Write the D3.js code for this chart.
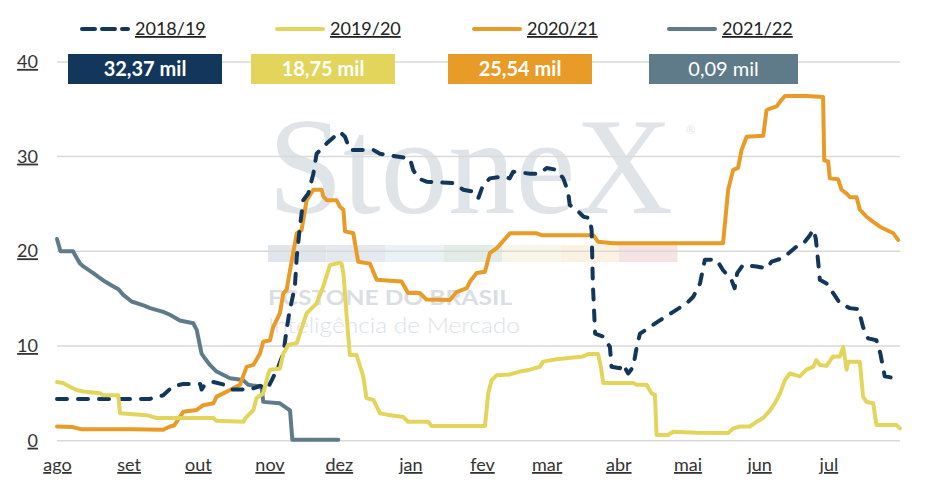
<!DOCTYPE html>
<html><head><meta charset="utf-8">
<script src="https://cdn.jsdelivr.net/npm/d3@7"></script>
<style>
html,body{margin:0;padding:0;background:#fff;}
text{font-family:Lato,"Open Sans",sans-serif;}
.ul{text-decoration:underline;}
</style></head>
<body><svg id="c" width="927" height="483"></svg>
<script>
// ---- data (x = days since 1 Aug of the season, y = thousand) ----
const seasons = ["2018/19","2019/20","2020/21","2021/22"];
const colors = ["#13375b","#e3d55c","#e89b26","#5f7b8a"];
const totals = ["32,37 mil","18,75 mil","25,54 mil","0,09 mil"];
const monthLabels = ["ago","set","out","nov","dez","jan","fev","mar","abr","mai","jun","jul"];
const yTicks = [0,10,20,30,40];

const s1819 = [[0,4.4],[40,4.4],[46,4.8],[50,5.7],[54.7,6.0],[62,6.0],[62.6,5.4],[64,5.9],[67.7,6.2],[72.6,5.9],[75.6,5.4],[83.5,5.4],[88,5.8],[90.8,5.35],[93,6.4],[95.8,7.8],[98,9.2],[99.4,11.7],[100.5,13.4],[103,16.3],[103.8,19.4],[105,22.2],[106.6,25.4],[108.8,26.1],[111,28.2],[112.4,30.3],[116.8,31.4],[121,32.3],[122.5,32.6],[124.7,32.1],[126.8,30.7],[137,30.7],[139.8,30.3],[152.8,29.8],[154.2,28.6],[156.4,27.7],[160,27.35],[171.6,27.2],[175.9,26.5],[180.2,26.3],[182.4,25.6],[184.5,27.0],[187.4,27.7],[193.2,27.9],[196,27.7],[197.5,28.4],[204.8,28.2],[209,28.2],[212,28.8],[216.3,28.6],[219.2,27.7],[221.3,26.3],[222,24.9],[225.7,24.2],[228,23.65],[230.7,23.5],[231.5,22.2],[232,16.6],[233,11.3],[236.5,11.0],[239.4,9.9],[240.1,7.8],[243.7,7.65],[245,8.1],[247.3,7.1],[249.5,7.8],[251,9.9],[252.4,11.3],[256.7,12.0],[261,12.7],[266.8,13.6],[272.6,14.5],[275.5,15.2],[278.4,16.6],[280.5,19.1],[285.6,19.1],[288.4,18.0],[292,17.0],[293.4,16.1],[294.5,17.7],[297,18.55],[302.9,18.4],[307.2,18.2],[309.4,18.9],[314.4,19.3],[320.2,20.5],[323.1,20.8],[326,21.7],[327.4,22.3],[328.5,21.4],[329.2,19.8],[330.3,17.0],[333.2,16.6],[336,15.6],[339,14.5],[343.3,14.0],[347,13.9],[349,12.0],[351.2,10.8],[354.8,10.6],[356.5,9.2],[358.4,6.8],[365,6.5]];

const s1920 = [[0,6.2],[2.5,6.1],[5.6,5.7],[8.5,5.35],[11.4,5.2],[18.6,5.0],[20,4.8],[26.5,4.8],[27.3,2.9],[38.8,2.7],[43.2,2.4],[67.7,2.4],[69,2.1],[80.6,2.0],[82,2.5],[85,3.2],[86.4,4.5],[89.3,5.0],[91.5,7.1],[92.2,7.5],[96.5,7.6],[98,9.2],[100.1,10.1],[103.8,10.3],[106.6,12.4],[108.1,13.45],[112.4,14.5],[115.3,16.3],[118.2,18.55],[122.5,18.8],[123.2,18.7],[124,17.7],[126,11.3],[126.8,9.05],[129.7,9.05],[132.6,6.8],[134,4.5],[137,4.3],[139.8,2.9],[143,2.75],[150,2.5],[152,2.0],[160.7,2.0],[162.2,1.55],[185.3,1.55],[186.7,5.0],[188.2,6.4],[190.3,6.9],[196,7.0],[200.4,7.3],[204.8,7.5],[209,7.8],[210.5,8.35],[216.3,8.6],[227.8,8.9],[230,9.15],[234.3,9.15],[235.5,7.8],[236.5,6.1],[249.5,6.1],[251,5.9],[255.3,5.9],[257.4,5.0],[258.9,4.85],[259.6,0.6],[264.6,0.6],[266.8,0.95],[276.9,0.85],[290.6,0.8],[292.8,1.3],[295.7,1.5],[300,1.5],[302.9,2.0],[305.8,2.4],[308.7,3.2],[310.8,3.95],[313,5.0],[315.2,6.4],[317.3,7.1],[321.6,6.8],[324.5,7.5],[327.4,7.8],[328.8,8.5],[330.3,8.0],[333.2,7.9],[336,8.9],[339,8.9],[340.4,9.9],[341.9,7.5],[342.6,8.35],[347.6,8.35],[349,4.65],[350.5,4.1],[353.4,3.95],[354.8,1.65],[363.5,1.65],[365,1.3]];

const s2021 = [[0,1.5],[6.6,1.45],[10.7,1.2],[32.3,1.2],[46,1.15],[48.9,1.5],[50.7,1.6],[54.7,3.05],[60.5,3.25],[63.3,3.75],[67.7,3.95],[69.1,4.65],[72,5.0],[74.9,5.35],[79.2,5.9],[82.1,7.8],[85,8.0],[87.9,9.2],[89.3,10.45],[92.2,10.6],[93.6,12.0],[96.5,13.45],[98,15.6],[99.4,15.9],[100.9,18.0],[103.8,21.9],[105.9,22.25],[108.1,25.4],[111,26.5],[114.6,26.5],[115.3,25.8],[116.8,25.4],[121,25.4],[122.5,24.7],[124,24.4],[124.7,22.1],[128.3,21.9],[130.4,18.9],[135.5,18.7],[138.4,17.0],[149.2,16.8],[152,15.6],[157.1,15.6],[160,14.9],[170.1,14.85],[173,15.7],[177.4,16.1],[178.8,16.8],[181.7,17.7],[185.3,17.85],[187.4,19.8],[190.3,20.3],[196.1,21.9],[207.7,21.9],[209.8,21.7],[232.2,21.7],[234.3,21.0],[240.8,20.85],[288.4,20.85],[290.6,26.5],[291.3,27.2],[292.8,28.6],[294.9,28.8],[296.4,30.7],[298.6,32.1],[305.8,32.2],[307.2,34.9],[309,35.1],[311.6,35.3],[313.7,36.0],[315.2,36.4],[324.5,36.4],[331.7,36.3],[332.2,29.6],[333.9,29.5],[334.6,27.7],[338.2,27.6],[339.7,26.5],[341.9,26.1],[343.3,25.7],[346.2,25.7],[347.6,24.4],[350.5,23.65],[353.4,23.1],[356.3,22.6],[359.2,22.25],[362.1,21.9],[364.2,21.2]];

const s2122 = [[0,21.3],[1.5,20.0],[7,20.0],[7.8,19.6],[10,18.7],[11.4,18.4],[15.7,17.7],[17.9,17.3],[20.8,16.8],[23.7,16.4],[26.6,16.0],[28.7,15.4],[32.3,14.7],[37.4,14.3],[40.3,14.0],[46,13.6],[48.9,13.3],[53.2,12.7],[59,12.4],[60.5,11.7],[62.6,9.2],[64,8.7],[66.2,8.0],[69.1,7.3],[74.9,6.6],[80.6,6.4],[82.8,5.9],[88.6,5.7],[89.3,4.1],[96.5,3.95],[100.9,3.2],[101.9,0.09],[121.8,0.09]];

const seriesData = [s1819, s1920, s2021, s2122];

// ---- chart ----
const svg = d3.select("#c");
const start = new Date(Date.UTC(2018,7,1));
const end = new Date(Date.UTC(2019,7,1));
const x = d3.scaleUtc().domain([start,end]).range([57,900]);
const y = d3.scaleLinear().domain([0,40]).range([440.7,61.9]);
const toDate = d => new Date(start.getTime() + d*86400000);

// watermark
const wm = svg.append("g");
wm.append("text").attr("x",268).attr("y",213).attr("textLength",405).attr("lengthAdjust","spacingAndGlyphs")
  .style("font-family","'Liberation Serif','DejaVu Serif',serif").style("font-size","138px").attr("fill","#dfe4e9").text("StoneX");
wm.append("text").attr("x",686).attr("y",134).style("font-size","11px").attr("fill","#dfe4e9").text("®");
const stripCols = ["#e0e5eb","#e4e9f0","#ebf2f6","#e2ece6","#f8f6e7","#fcf2e2","#f6e4e4"];
stripCols.forEach((c,i)=>wm.append("rect").attr("x",268+i*58.5).attr("y",245).attr("width",58.5).attr("height",17).attr("fill",c));
wm.append("text").attr("x",268).attr("y",305).attr("textLength",244).attr("lengthAdjust","spacingAndGlyphs")
  .style("font-size","21px").style("font-weight","bold").attr("fill","#d9dee3").text("FCSTONE DO BRASIL");
wm.append("text").attr("x",268).attr("y",333).attr("textLength",252).attr("lengthAdjust","spacingAndGlyphs")
  .style("font-size","22px").style("font-weight","300").attr("fill","#dde2e7").text("Inteligência de Mercado");

// gridlines + y labels
svg.append("g").selectAll("line").data(yTicks).join("line")
  .attr("x1",57).attr("x2",900).attr("y1",d=>y(d)).attr("y2",d=>y(d))
  .attr("stroke","#d9d9d9").attr("stroke-width",1.5);
svg.append("g").selectAll("text").data(yTicks).join("text").attr("class","ul")
  .attr("x",38).attr("y",d=>y(d)+6).attr("text-anchor","end")
  .style("font-size","18px").attr("fill","#333").text(d=>d);

// x axis
const monthTicks = d3.utcMonth.range(start,end);
const xAxis = svg.append("g").attr("transform","translate(0,452)")
  .call(d3.axisBottom(x).tickValues(monthTicks).tickSize(0).tickFormat((d,i)=>monthLabels[i]));
xAxis.select(".domain").remove();
xAxis.selectAll("text").attr("class","ul").attr("dy","0").attr("y",19)
  .style("font-size","18px").style("font-family","Lato,sans-serif").attr("fill","#333");

// lines
const line = d3.line().x(d=>x(toDate(d[0]))).y(d=>y(d[1])).curve(d3.curveLinear);
const order = [3,2,0,1];
order.forEach(i=>{
  const p = svg.append("path").datum(seriesData[i]).attr("d",line)
    .attr("fill","none").attr("stroke",colors[i]).attr("stroke-width",4)
    .attr("stroke-linejoin","round").attr("stroke-linecap","round");
  if(i===0) p.attr("stroke-dasharray","10,11");
});

// legend
const legX = [80,275,472,667];
seasons.forEach((s,i)=>{
  const g = svg.append("g");
  const l = g.append("line").attr("x1",legX[i]+2).attr("x2",legX[i]+48).attr("y1",29).attr("y2",29)
    .attr("stroke",colors[i]).attr("stroke-width",4).attr("stroke-linecap","round");
  if(i===0) l.attr("stroke-dasharray","13,7");
  g.append("text").attr("class","ul").attr("x",legX[i]+55).attr("y",35)
    .style("font-size","18px").attr("fill","#222").text(s);
});

// value boxes
const boxX = [68,251,448,649], boxW = [154,144,144,149];
totals.forEach((t,i)=>{
  svg.append("rect").attr("x",boxX[i]).attr("y",54).attr("width",boxW[i]).attr("height",30).attr("fill",colors[i]);
  svg.append("text").attr("x",boxX[i]+boxW[i]/2).attr("y",76).attr("text-anchor","middle")
    .style("font-size","20px").style("font-weight",i===3?"normal":"bold").attr("fill","#fff").text(t);
});
</script></body></html>
